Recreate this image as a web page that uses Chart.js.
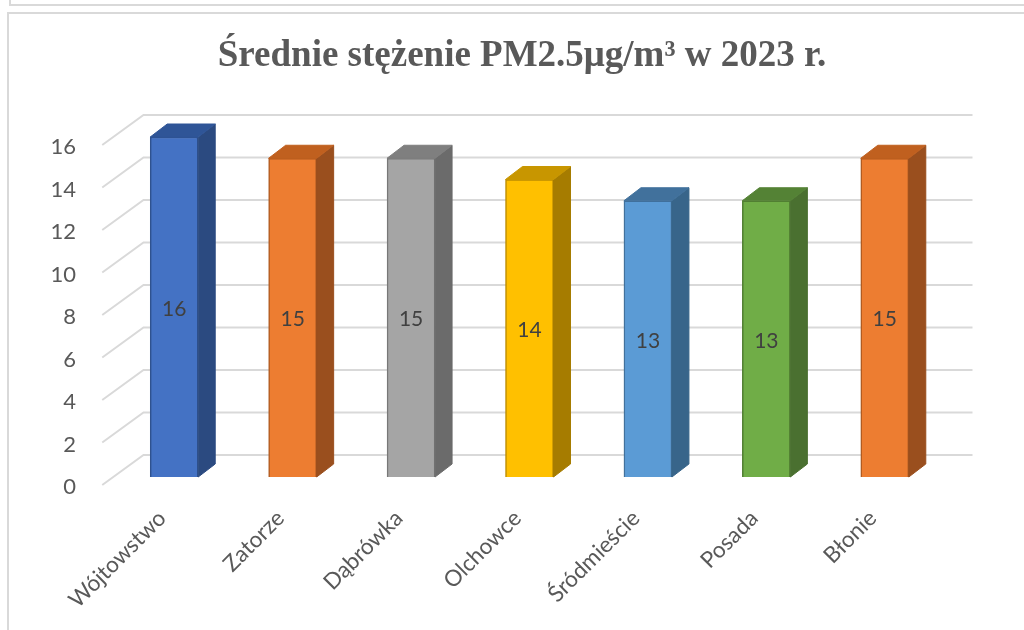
<!DOCTYPE html>
<html>
<head>
<meta charset="utf-8">
<script src="https://cdn.jsdelivr.net/npm/chart.js@4.4.1/dist/chart.umd.min.js"></script>
<style>
  html, body { margin: 0; padding: 0; background: #ffffff; overflow: hidden; }
  #wrap { position: relative; width: 1024px; height: 630px; overflow: hidden; }
  .frameTop { position: absolute; left: 9px; top: -10px; width: 2000px; height: 14px;
    border-left: 2px solid #d9d9d9; border-bottom: 2px solid #d9d9d9; }
  .frameMain { position: absolute; left: 7px; top: 12px; width: 2000px; height: 800px;
    border-left: 2px solid #d9d9d9; border-top: 2px solid #d9d9d9; }
  canvas { position: absolute; left: 0; top: 0; }
</style>
</head>
<body>
<div id="wrap">
  <div class="frameTop"></div>
  <div class="frameMain"></div>
  <canvas id="c" width="1024" height="630"></canvas>
</div>
<script>
const titleText = 'Średnie stężenie PM2.5μg/m³ w 2023 r.';
const categories = ['Wójtowstwo', 'Zatorze', 'Dąbrówka', 'Olchowce', 'Śródmieście', 'Posada', 'Błonie'];
const values = [16, 15, 15, 14, 13, 13, 15];
const yTicks = [0, 2, 4, 6, 8, 10, 12, 14, 16];
const frontColors = ['#4472C4', '#ED7D31', '#A5A5A5', '#FFC000', '#5B9BD5', '#70AD47', '#ED7D31'];
const topColors = ['#2F5597', '#C0601F', '#7F7F7F', '#C89600', '#41719C', '#548235', '#C0601F'];
const sideColors = ['#2B4A80', '#9A4F1E', '#6B6B6B', '#A67C00', '#38658A', '#4A7030', '#9A4F1E'];
const borderColors = ['#2F528F', '#AE5A21', '#787878', '#BC8C00', '#41719C', '#507E32', '#AE5A21'];

const DEPTH_X = 17, DEPTH_Y = 13;        // bar depth
const BACK_X = 28.5, BACK_Y = 22;        // bar plane -> back wall
const FRONT_X = 12.75, FRONT_Y = 8;      // bar plane -> front floor edge

const wall3D = {
  id: 'wall3D',
  beforeDatasetsDraw(chart) {
    const ctx = chart.ctx, ys = chart.scales.y, ca = chart.chartArea;
    ctx.save();
    // title
    ctx.fillStyle = '#595959';
    ctx.font = 'bold 37px "Liberation Serif"';
    ctx.textAlign = 'center';
    ctx.textBaseline = 'alphabetic';
    ctx.fillText(titleText, 522, 66);
    // walls
    ctx.strokeStyle = '#d9d9d9';
    ctx.lineWidth = 2;
    yTicks.forEach(v => {
      const y = ys.getPixelForValue(v);
      ctx.beginPath();
      ctx.moveTo(ca.left - FRONT_X, y + FRONT_Y);
      ctx.lineTo(ca.left + BACK_X, y - BACK_Y);
      ctx.lineTo(ca.right + BACK_X, y - BACK_Y);
      ctx.stroke();
    });
    ctx.restore();
  },
  afterDatasetsDraw(chart) {
    const ctx = chart.ctx;
    const meta = chart.getDatasetMeta(0);
    ctx.save();
    meta.data.forEach((bar, i) => {
      const p = bar.getProps(['x', 'y', 'base', 'width'], true);
      const l = p.x - p.width / 2, r = p.x + p.width / 2;
      // side face
      ctx.beginPath();
      ctx.moveTo(r, p.y);
      ctx.lineTo(r + DEPTH_X, p.y - DEPTH_Y);
      ctx.lineTo(r + DEPTH_X, p.base - DEPTH_Y);
      ctx.lineTo(r, p.base);
      ctx.closePath();
      ctx.fillStyle = sideColors[i];
      ctx.fill();
      ctx.strokeStyle = sideColors[i];
      ctx.lineWidth = 1;
      ctx.stroke();
      // top face
      ctx.beginPath();
      ctx.moveTo(l, p.y);
      ctx.lineTo(l + DEPTH_X, p.y - DEPTH_Y);
      ctx.lineTo(r + DEPTH_X, p.y - DEPTH_Y);
      ctx.lineTo(r, p.y);
      ctx.closePath();
      ctx.fillStyle = topColors[i];
      ctx.fill();
      ctx.strokeStyle = topColors[i];
      ctx.stroke();
      // label
      ctx.fillStyle = '#404040';
      ctx.font = '21px Lato';
      ctx.textAlign = 'center';
      ctx.textBaseline = 'middle';
      ctx.fillText(String(values[i]), p.x, (p.y + p.base) / 2 + 2);
    });
    ctx.restore();
  }
};

new Chart(document.getElementById('c'), {
  type: 'bar',
  data: {
    labels: categories,
    datasets: [{
      data: values,
      backgroundColor: frontColors,
      borderColor: borderColors,
      borderWidth: 1.5,
      barThickness: 48
    }]
  },
  options: {
    responsive: false,
    devicePixelRatio: 1,
    animation: false,
    layout: { padding: { left: 0, right: 80, top: 137, bottom: 0 } },
    plugins: {
      legend: { display: false },
      tooltip: { enabled: false },
      title: { display: false }
    },
    scales: {
      y: {
        min: 0, max: 16,
        afterFit(s) { s.width = 115; },
        grid: { display: false },
        border: { display: false },
        ticks: {
          stepSize: 2,
          padding: 31,
          labelOffset: 10,
          color: '#595959',
          font: { family: 'Lato', size: 22 }
        }
      },
      x: {
        afterFit(s) { s.height = 153; },
        grid: { display: false },
        border: { display: false },
        ticks: {
          minRotation: 45,
          maxRotation: 45,
          padding: 20,
          labelOffset: -12,
          color: '#595959',
          font: { family: 'Lato', size: 22.5 }
        }
      }
    }
  },
  plugins: [wall3D]
});
</script>
</body>
</html>
